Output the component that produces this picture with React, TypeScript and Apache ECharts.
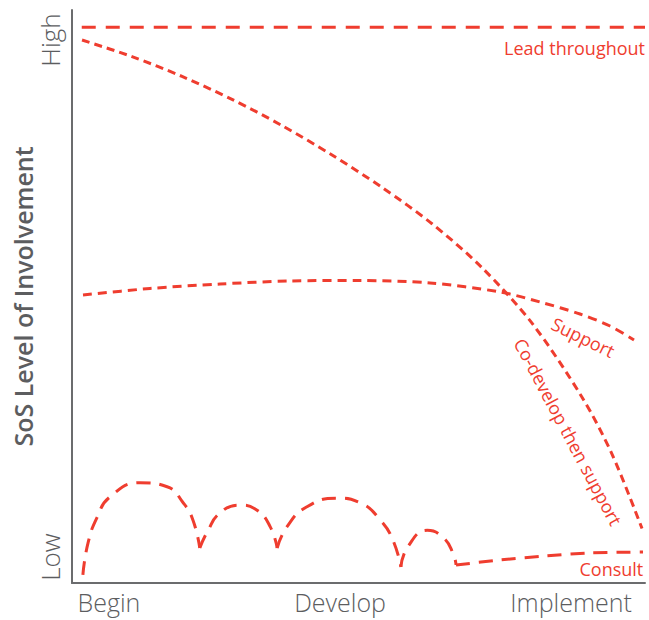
import React, { useEffect, useRef } from "react";
import * as echarts from "echarts";

// Stage labels on x axis (stage units: Begin=0, Develop=1, Implement=2)
const stageLabels = ["Begin", "Develop", "Implement"];
const levelLabels = ["Low", "High"];

// Involvement curves, x: 0..100 (timeline), y: 0..100 (involvement)
const leadThroughout: number[][] = [
  [1.7, 97.0],
  [100, 97.0],
];

const coDevelopThenSupport: number[][] = [
  [1.75, 94.76],
  [10.47, 91.87],
  [19.2, 88.41],
  [27.92, 84.4],
  [36.65, 79.83],
  [45.38, 74.69],
  [54.1, 69.04],
  [62.83, 62.7],
  [71.55, 55.03],
  [80.28, 45.34],
  [89.01, 32.43],
  [94.24, 22.5],
  [99.48, 9.51],
];

const support: number[][] = [
  [1.92, 50.26],
  [13.61, 51.4],
  [25.83, 52.18],
  [38.05, 52.71],
  [50.26, 52.79],
  [62.48, 52.36],
  [74.69, 50.79],
  [81.68, 49.04],
  [88.66, 46.95],
  [93.89, 44.85],
  [98.08, 42.41],
];

const consultArc1: number[][] = [
  [1.9, 1.4],
  [2.8, 7.0],
  [4.4, 11.5],
  [6.6, 15.0],
  [11.9, 17.5],
  [16.6, 16.8],
  [19.4, 14.0],
  [21.1, 11.0],
  [22.3, 6.1],
];
const consultArc2: number[][] = [
  [22.3, 6.1],
  [23.6, 8.9],
  [25.8, 12.2],
  [29.3, 13.6],
  [32.3, 12.7],
  [34.6, 9.8],
  [35.8, 6.1],
];
const consultArc3: number[][] = [
  [35.8, 6.1],
  [37.5, 9.8],
  [41.0, 13.3],
  [46.2, 14.8],
  [50.3, 14.0],
  [53.8, 11.0],
  [56.0, 7.5],
  [57.4, 2.8],
];
const consultArc4: number[][] = [
  [57.4, 2.8],
  [58.6, 6.3],
  [62.0, 9.2],
  [64.7, 8.0],
  [66.5, 5.2],
  [67.02, 3.14],
];
const consultTail: number[][] = [
  [67.02, 3.14],
  [74.69, 4.01],
  [82.55, 4.71],
  [90.4, 5.24],
  [99.65, 5.41],
];
const consultParts = [consultArc1, consultArc2, consultArc3, consultArc4, consultTail];

const RED = "#ef3d2f";
const GRAY = "#5c5d5f";
const AXIS = "#6b6c6e";
const FONT = "'Open Sans', 'Noto Sans', sans-serif";

export default function App() {
  const ref = useRef<HTMLDivElement>(null);

  useEffect(() => {
    if (!ref.current) return;
    const chart = echarts.init(ref.current, undefined, { renderer: "svg" });

    const lineSeries = (name: string, data: number[][], dash: number[], smooth: boolean | number) => ({
      type: "line",
      name,
      data,
      xAxisIndex: 0,
      yAxisIndex: 0,
      smooth,
      showSymbol: false,
      symbol: "none",
      silent: true,
      lineStyle: { color: RED, width: 3, type: dash, cap: "butt" },
    });

    const option: any = {
      animation: false,
      grid: { left: 72, right: 4, top: 10, bottom: 37, containLabel: false },
      xAxis: [
        {
          type: "value",
          min: 0,
          max: 100,
          position: "bottom",
          axisLine: { show: true, onZero: false, lineStyle: { color: AXIS, width: 2 } },
          axisTick: { show: false },
          axisLabel: { show: false },
          splitLine: { show: false },
        },
        {
          type: "value",
          min: -0.16,
          max: 2.32,
          position: "bottom",
          axisLine: { show: false, onZero: false },
          axisTick: { show: false },
          splitLine: { show: false },
          axisLabel: {
            show: true,
            margin: 6,
            color: GRAY,
            fontSize: 25,
            lineHeight: 25,
            fontFamily: FONT,
            fontWeight: 300,
            showMinLabel: false,
            showMaxLabel: false,
            formatter: (v: number) => {
              const i = Math.round(v);
              return Math.abs(v - i) < 1e-6 && i >= 0 && i < stageLabels.length ? stageLabels[i] : "";
            },
          },
        },
      ],
      yAxis: [
        {
          type: "value",
          min: 0,
          max: 100,
          position: "left",
          name: "SoS Level of Involvement",
          nameLocation: "middle",
          nameRotate: 90,
          nameGap: 37,
          nameTextStyle: { color: GRAY, fontSize: 25, fontWeight: 600, fontFamily: FONT },
          axisLine: { show: true, onZero: false, lineStyle: { color: AXIS, width: 2 } },
          axisTick: { show: false },
          axisLabel: { show: false },
          splitLine: { show: false },
        },
        {
          type: "value",
          min: -0.05,
          max: 1.058,
          position: "left",
          axisLine: { show: false, onZero: false },
          axisTick: { show: false },
          splitLine: { show: false },
          axisLabel: {
            show: true,
            rotate: 90,
            margin: 9,
            color: GRAY,
            fontSize: 26,
            fontFamily: FONT,
            fontWeight: 300,
            showMinLabel: false,
            showMaxLabel: false,
            formatter: (v: number) => {
              const i = Math.round(v);
              return Math.abs(v - i) < 1e-6 && i >= 0 && i < levelLabels.length ? levelLabels[i] : "";
            },
          },
        },
      ],
      series: [
        lineSeries("Lead throughout", leadThroughout, [14, 10], false),
        lineSeries("Co-develop then support", coDevelopThenSupport, [8, 5], 0.3),
        lineSeries("Support", support, [9, 6], 0.3),
        ...consultParts.map((p, i) => lineSeries("Consult" + i, p, [14, 9], i === 4 ? 0.3 : 0.5)),
      ],
    };
    chart.setOption(option);

    const notes = [
      { text: "Lead throughout", at: [100, 93.4], rot: 0, align: "right" },
      { text: "Support", at: [89.2, 42.9], rot: -26, align: "center" },
      { text: "Co-develop then support", at: [86.6, 26.4], rot: -62, align: "center" },
      { text: "Consult", at: [99.7, 2.4], rot: 0, align: "right" },
    ];
    const graphic = notes.map((n) => {
      const p = chart.convertToPixel({ xAxisIndex: 0, yAxisIndex: 0 }, n.at) as number[];
      return {
        type: "text",
        x: p[0],
        y: p[1],
        rotation: (n.rot * Math.PI) / 180,
        silent: true,
        style: {
          text: n.text,
          fill: RED,
          font: `400 18px ${FONT}`,
          textAlign: n.align,
          textVerticalAlign: "middle",
          align: n.align,
          verticalAlign: "middle",
        },
      };
    });
    chart.setOption({ graphic });

    return () => chart.dispose();
  }, []);

  return (
    <div
      ref={ref}
      style={{ position: "fixed", left: 0, top: 0, width: 649, height: 620, background: "#fff" }}
    />
  );
}
